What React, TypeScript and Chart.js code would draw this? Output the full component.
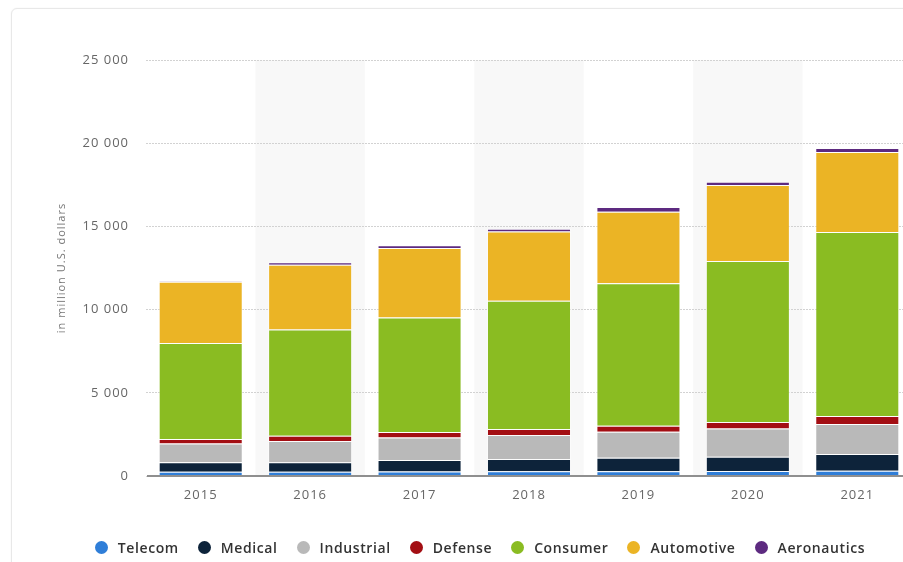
import React, { useEffect, useRef } from 'react';
import { Chart, registerables } from 'chart.js';

Chart.register(...registerables);

const categories = ['2015', '2016', '2017', '2018', '2019', '2020', '2021'];
const telecom = [250, 250, 270, 280, 290, 300, 320];
const medical = [570, 570, 690, 740, 810, 860, 1000];
const industrial = [1140, 1280, 1360, 1440, 1560, 1700, 1800];
const defense = [260, 320, 320, 360, 360, 380, 480];
const consumer = [5770, 6390, 6890, 7710, 8560, 9680, 11060];
const automotive = [3690, 3880, 4170, 4170, 4300, 4570, 4810];
const aeronautics = [30, 160, 160, 160, 280, 200, 240];

const seriesNames = ['Telecom', 'Medical', 'Industrial', 'Defense', 'Consumer', 'Automotive', 'Aeronautics'];
const seriesValues = [telecom, medical, industrial, defense, consumer, automotive, aeronautics];
const seriesColors = ['#2f7ed8', '#0d233a', '#b9b9b9', '#a30e13', '#8abc22', '#ebb425', '#5d2a80'];

const yMin = 0;
const yMax = 25000;
const yStep = 5000;
const yTitle = 'in million U.S. dollars';

const fmt = (v: number) => String(v).replace(/\B(?=(\d{3})+(?!\d))/g, ' ');

const bandPlugin = {
  id: 'bands',
  beforeDraw(chart: any) {
    const { ctx, chartArea, scales } = chart;
    (ctx as any).letterSpacing = '1px';
    const x = scales.x;
    const w = chartArea.width / categories.length;
    ctx.save();
    ctx.fillStyle = '#f8f8f8';
    categories.forEach((_, i) => {
      if (i % 2 === 1) {
        const cx = x.getPixelForValue(i);
        ctx.fillRect(cx - w / 2, chartArea.top, w, chartArea.bottom - chartArea.top);
      }
    });
    ctx.restore();
  },
  afterDatasetsDraw(chart: any) {
    const { ctx, chartArea, scales } = chart;
    const y0 = scales.y.getPixelForValue(0);
    ctx.save();
    ctx.strokeStyle = '#8f8f8f';
    ctx.lineWidth = 2;
    ctx.beginPath();
    ctx.moveTo(chartArea.left + 1, y0);
    ctx.lineTo(chartArea.right, y0);
    ctx.stroke();
    ctx.restore();
  },
};

export default function App() {
  const ref = useRef<HTMLCanvasElement>(null);

  useEffect(() => {
    if (!ref.current) return;
    const chart = new Chart(ref.current, {
      type: 'bar',
      data: {
        labels: categories,
        datasets: seriesNames.map((name, i) => ({
          label: name,
          data: seriesValues[i],
          backgroundColor: seriesColors[i],
          borderColor: 'rgba(255,255,255,0.55)',
          borderWidth: 1,
          barPercentage: 0.768,
          categoryPercentage: 1,
        })),
      },
      options: {
        animation: false,
        responsive: false,
        devicePixelRatio: 1,
        layout: { padding: { left: 51, top: 60, right: 8, bottom: 56 } },
        plugins: {
          legend: { display: false },
          tooltip: { enabled: false },
        },
        scales: {
          x: {
            stacked: true,
            grid: { display: false, drawTicks: false },
            border: { display: false },
            ticks: {
              color: '#666',
              padding: 11,
              font: { family: '"Open Sans", sans-serif', size: 13 },
            },
            afterFit: (axis: any) => {
              axis.height = 30;
            },
          },
          y: {
            stacked: true,
            min: yMin,
            max: yMax,
            ticks: {
              stepSize: yStep,
              color: '#666',
              padding: 17,
              font: { family: '"Open Sans", sans-serif', size: 13 },
              callback: (v: any) => fmt(Number(v)),
            },
            grid: { color: '#d2d2d2', drawTicks: false },
            border: { display: false, dash: [2, 1] },
            title: {
              display: true,
              text: yTitle,
              color: '#777',
              padding: { top: 4, bottom: 0 },
              font: { family: '"Open Sans", sans-serif', size: 11 },
            },
            afterFit: (axis: any) => {
              axis.width = 95;
            },
          },
        },
      },
      plugins: [bandPlugin],
    } as any);
    return () => chart.destroy();
  }, []);

  return (
    <div style={{ position: 'fixed', left: 0, top: 0, width: 903, height: 562, overflow: 'hidden', background: '#fff' }}>
      <div
        style={{
          position: 'absolute',
          left: 11,
          top: 8,
          width: 920,
          height: 600,
          border: '1px solid #e8e8e8',
          borderRadius: 6,
          boxShadow: '0 0 2px rgba(0,0,0,0.06)',
          background: '#fff',
        }}
      />
      <canvas ref={ref} width={920} height={562} style={{ position: 'absolute', left: 0, top: 0, width: 920, height: 562 }} />
      <div
        style={{
          position: 'absolute',
          left: 0,
          top: 537,
          width: 960,
          height: 20,
          display: 'flex',
          justifyContent: 'center',
          alignItems: 'center',
          fontFamily: '"Open Sans", sans-serif',
          fontSize: 14,
          fontWeight: 600,
          letterSpacing: '0.6px',
          color: '#333',
        }}
      >
        {seriesNames.map((name, i) => (
          <div key={name} style={{ display: 'flex', alignItems: 'center', marginRight: i < seriesNames.length - 1 ? 19 : 0 }}>
            <span
              style={{
                display: 'inline-block',
                width: 13,
                height: 13,
                borderRadius: '50%',
                background: seriesColors[i],
                marginRight: 10,
              }}
            />
            <span>{name}</span>
          </div>
        ))}
      </div>
    </div>
  );
}
